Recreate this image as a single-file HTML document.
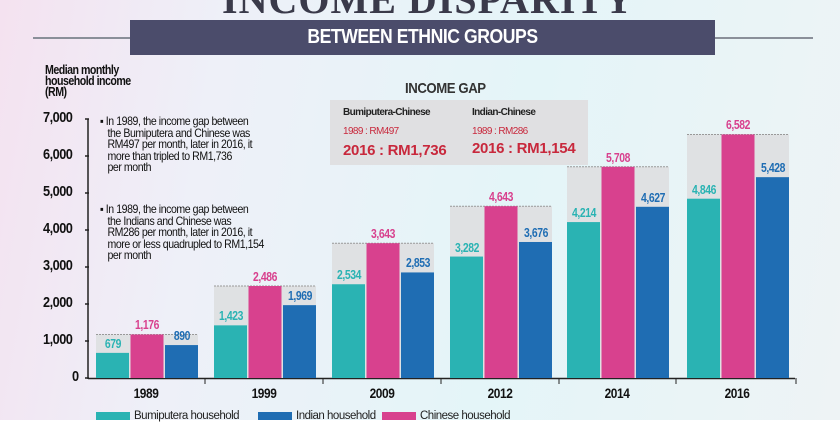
<!DOCTYPE html>
<html><head><meta charset="utf-8"><style>
body{margin:0;width:840px;height:420px;overflow:hidden;font-family:"Liberation Sans",sans-serif;}
#bg{position:absolute;left:0;top:0;width:840px;height:420px;background:linear-gradient(100deg,#f4e2f0 0%,#eef0f8 25%,#e4f5f8 60%,#eef3f5 100%);}
.t{position:absolute;white-space:nowrap;}
.n{position:absolute;font-weight:bold;font-size:13px;letter-spacing:-0.5px;text-align:center;width:40px;transform:scaleX(0.8);}
</style></head><body><div id="bg"></div>
<div class="t" style="left:222px;top:-24px;font-family:'Liberation Serif',serif;font-weight:bold;font-size:40px;color:#3a3a4a;letter-spacing:1px;">INCOME DISPARITY</div>
<div style="position:absolute;left:33px;top:37px;width:780px;height:2px;background:#8a8f99"></div>
<div style="position:absolute;left:130px;top:20px;width:585px;height:35px;background:#4b4c6b"></div>
<div class="t" style="left:130px;width:585px;text-align:center;top:26px;color:#fff;font-size:20px;font-weight:bold;letter-spacing:-0.5px;transform:scaleX(0.88)">BETWEEN ETHNIC GROUPS</div>
<div class="t" style="left:45px;top:65px;font-size:12.5px;font-weight:bold;line-height:11px;letter-spacing:-0.6px;color:#111;transform:scaleX(0.85);transform-origin:left">Median monthly<br>household income<br>(RM)</div>
<div class="t" style="left:405px;top:80px;font-size:15px;font-weight:bold;color:#333;letter-spacing:-0.5px;transform:scaleX(0.88);transform-origin:left">INCOME GAP</div>
<div style="position:absolute;left:330px;top:100px;width:258px;height:65px;background:#e0e0e2"></div>
<div class="t" style="left:343px;top:107px;font-size:10px;font-weight:bold;letter-spacing:-0.6px;color:#222">Bumiputera-Chinese</div>
<div class="t" style="left:472px;top:107px;font-size:10px;font-weight:bold;letter-spacing:-0.6px;color:#222">Indian-Chinese</div>
<div class="t" style="left:343px;top:126px;font-size:10px;color:#c8283c;letter-spacing:-0.6px">1989 : RM497</div>
<div class="t" style="left:472px;top:126px;font-size:10px;color:#c8283c;letter-spacing:-0.6px">1989 : RM286</div>
<div class="t" style="left:343px;top:142px;font-size:15px;font-weight:bold;color:#c8283c;letter-spacing:-0.3px">2016 : RM1,736</div>
<div class="t" style="left:472px;top:140px;font-size:15px;font-weight:bold;color:#c8283c;letter-spacing:-0.3px">2016 : RM1,154</div>
<div class="t" style="left:100px;top:116px;font-size:12px;line-height:11.5px;letter-spacing:-0.5px;color:#111;transform:scaleX(0.88);transform-origin:left">▪ In 1989, the income gap between<br>&nbsp;&nbsp;&nbsp;the Bumiputera and Chinese was<br>&nbsp;&nbsp;&nbsp;RM497 per month, later in 2016, it<br>&nbsp;&nbsp;&nbsp;more than tripled to RM1,736<br>&nbsp;&nbsp;&nbsp;per month</div>
<div class="t" style="left:100px;top:204px;font-size:12px;line-height:11.5px;letter-spacing:-0.5px;color:#111;transform:scaleX(0.88);transform-origin:left">▪ In 1989, the income gap between<br>&nbsp;&nbsp;&nbsp;the Indians and Chinese was<br>&nbsp;&nbsp;&nbsp;RM286 per month, later in 2016, it<br>&nbsp;&nbsp;&nbsp;more or less quadrupled to RM1,154<br>&nbsp;&nbsp;&nbsp;per month</div>
<svg width="840" height="420" style="position:absolute;left:0;top:0" id="s"></svg>
<div id="lab"></div>
<script>
var s=document.getElementById('s'),h='',L='';
function y(v){return 378-v*0.037;}
for(var i=0;i<=7;i++){var yy=378-i*37;h+='<line x1="85" x2="89" y1="'+yy+'" y2="'+yy+'" stroke="#222" stroke-width="1.5"/>';
L+='<div class="t" style="left:'+(i?43:72)+'px;top:'+(yy-10)+'px;font-size:15px;font-weight:bold;letter-spacing:-0.6px;color:#111;transform:scaleX(0.85);transform-origin:left">'+(i?i+',000':'0')+'</div>';}
h+='<line x1="88" x2="88" y1="119" y2="379" stroke="#222" stroke-width="1.5"/><line x1="88" x2="795" y1="378.5" y2="378.5" stroke="#222" stroke-width="1.5"/>';
var d=[[1989,679,1176,890],[1999,1423,2486,1969],[2009,2534,3643,2853],[2012,3282,4643,3676],[2014,4214,5708,4627],[2016,4846,6582,5428]];
var cols=['#2ab3b3','#d8418e','#1f6db3'];
var starts=[96,214,332,450,567,687];
d.forEach(function(g,k){var x0=starts[k],w=33,tc=y(g[2]);
h+='<rect x="'+x0+'" y="'+tc+'" width="'+(w*3+3)+'" height="'+(378-tc)+'" fill="#dfe1e3"/>';
h+='<line x1="'+x0+'" x2="'+(x0+w*3+3)+'" y1="'+tc+'" y2="'+tc+'" stroke="#999" stroke-dasharray="2,1"/>';
[1,2,3].forEach(function(j){var v=g[j],x=x0+(j-1)*(w+1.5),t=y(v);
h+='<rect x="'+x+'" y="'+t+'" width="'+w+'" height="'+(378-t)+'" fill="'+cols[j-1]+'"/>';
L+='<div class="n" style="left:'+(x+w/2-20)+'px;top:'+(t-17)+'px;color:'+cols[j-1]+'">'+v.toLocaleString('en-US')+'</div>';});
var cx=x0+50;h+='<line x1="'+(x0+109)+'" x2="'+(x0+109)+'" y1="378" y2="384" stroke="#222"/>';
L+='<div class="t" style="left:'+(cx-20)+'px;width:40px;text-align:center;top:385px;font-size:14px;font-weight:bold;letter-spacing:-0.5px;color:#111;transform:scaleX(0.85)">'+g[0]+'</div>';});
[[96,'Bumiputera household',cols[0]],[258,'Indian household',cols[2]],[382,'Chinese household',cols[1]]].forEach(function(l){
h+='<rect x="'+l[0]+'" y="412" width="34" height="10" fill="'+l[2]+'"/>';
L+='<div class="t" style="left:'+(l[0]+38)+'px;top:410px;font-size:11.5px;color:#222;letter-spacing:-0.5px">'+l[1]+'</div>';});
s.innerHTML=h;document.getElementById('lab').innerHTML=L;
</script>
</body></html>
